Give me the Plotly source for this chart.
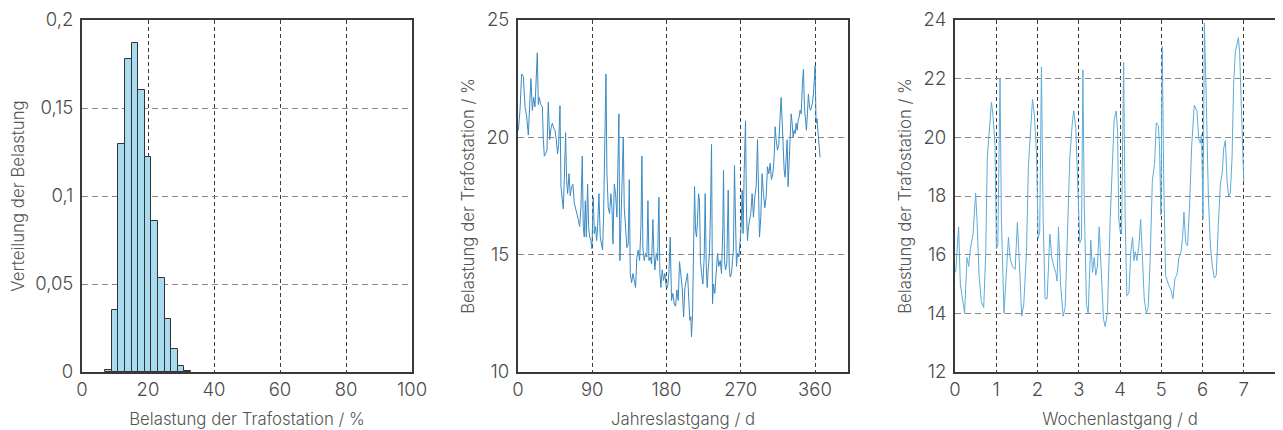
import plotly.graph_objects as go
from plotly.subplots import make_subplots

# ---------------- data ----------------
# Panel 1: distribution of transformer load (bin centres in %, relative frequency)
hist_centers = [8, 10, 12, 14, 16, 18, 20, 22, 24, 26, 28, 30, 32]
hist_freq = [0.0013, 0.035, 0.1295, 0.1776, 0.1871, 0.1602, 0.1223,
             0.0859, 0.0535, 0.0303, 0.0131, 0.0034, 0.0008]
hist_yticks = [0, 0.05, 0.1, 0.15, 0.2]
hist_yticktext = ["0", "0,05", "0,1", "0,15", "0,2"]
hist_xticks = [0, 20, 40, 60, 80, 100]

# Panel 2: annual load curve (day of year, load in %)
year_day = [0, 0.4, 2.4, 4.4, 6.5, 8.5, 10.5, 12.5, 14.5, 15.7, 17.4, 19.0, 20.6, 22.2, 23.4,
            24.6, 25.8, 27.5, 29.5, 30.7, 31.9, 33.5, 35.1, 36.7, 38.4, 40.0, 41.6, 43.2,
            44.8, 46.4, 48.0, 49.3, 50.9, 52.1, 53.7, 54.9, 56.1, 57.7, 58.9, 60.2, 61.8,
            63.4, 65.0, 66.6, 68.2, 69.8, 71.5, 73.1, 74.7, 76.3, 77.9, 79.1, 80.3, 81.6,
            82.8, 84.4, 85.6, 86.8, 88.4, 89.6, 91.2, 92.5, 94.1, 95.3, 96.5, 98.1, 99.7,
            101.3, 102.5, 103.8, 105.4, 106.6, 107.8, 109.4, 111.0, 112.6, 113.9, 115.1,
            116.7, 118.3, 119.9, 121.1, 122.3, 123.5, 124.8, 126.4, 127.6, 128.8, 130.4,
            132.0, 133.6, 134.9, 136.1, 137.7, 139.3, 140.9, 142.5, 144.1, 145.8, 147.4,
            149.0, 150.2, 151.4, 153.0, 154.6, 156.2, 157.5, 158.7, 160.3, 161.9, 163.5,
            164.7, 165.9, 167.6, 169.2, 170.8, 172.0, 173.2, 174.8, 176.4, 178.0, 179.7,
            181.3, 182.9, 184.5, 186.1, 187.7, 189.4, 191.0, 192.6, 194.2, 195.8, 197.4,
            199.0, 200.7, 202.3, 203.9, 205.5, 207.1, 208.3, 209.5, 210.3, 211.6, 212.8,
            214.0, 215.2, 216.4, 217.6, 218.8, 220.0, 221.2, 222.5, 224.1, 225.7, 226.9,
            228.1, 229.3, 230.5, 232.1, 233.4, 234.6, 235.8, 237.0, 238.6, 240.2, 241.8,
            243.4, 245.1, 246.7, 248.3, 249.1, 250.3, 251.5, 253.1, 254.8, 256.0, 257.2,
            258.8, 260.0, 261.2, 262.4, 263.6, 264.8, 266.1, 267.7, 269.3, 270.5, 271.7,
            272.9, 274.1, 275.8, 277.0, 278.2, 279.4, 280.6, 282.2, 283.8, 285.4, 287.0,
            288.7, 290.3, 291.5, 292.7, 294.3, 295.9, 297.5, 299.2, 300.8, 302.4, 304.0,
            305.6, 307.2, 308.9, 310.5, 311.7, 312.9, 314.5, 316.1, 317.7, 318.9, 320.2,
            321.4, 322.6, 323.8, 325.0, 326.2, 327.4, 328.6, 329.8, 331.1, 332.3, 333.5,
            334.7, 335.9, 337.1, 338.3, 339.5, 340.7, 341.9, 343.2, 344.8, 346.0, 347.2,
            348.4, 349.6, 350.8, 352.0, 353.3, 354.5, 355.7, 356.9, 358.1, 359.3, 360.1,
            361.3, 362.5, 363.8, 365.0, 366.2]
year_load = [20.5, 20.3, 21.15, 22.7, 22.6, 21.3, 20.9, 20.1, 21.6, 22.5, 21.15, 21.7, 21.3,
             22.3, 23.6, 21.4, 21.7, 21.4, 21.3, 19.9, 19.2, 19.3, 19.45, 21.5, 19.9, 20.4,
             20.6, 20.4, 20.3, 19.9, 19.3, 19.7, 21.35, 17.9, 17.3, 16.95, 18.2, 20.2, 18.2,
             17.6, 18.45, 17.5, 17.9, 18.0, 17.2, 17.0, 16.75, 16.5, 16.2, 17.0, 19.2, 16.2,
             15.75, 17.3, 15.75, 18.0, 16.2, 15.75, 15.6, 15.25, 17.45, 15.9, 16.2, 15.6,
             16.2, 17.6, 15.75, 15.4, 15.2, 16.75, 21.6, 22.7, 18.45, 17.0, 16.75, 17.6,
             17.0, 15.45, 18.0, 17.6, 16.6, 19.0, 21.0, 14.75, 16.2, 18.2, 20.0, 17.0, 16.2,
             15.3, 15.45, 18.2, 14.2, 13.8, 14.2, 13.9, 13.6, 14.9, 15.2, 14.75, 16.2, 19.2,
             15.3, 14.75, 15.05, 14.9, 17.3, 14.75, 14.9, 14.6, 16.5, 15.05, 14.35, 15.05,
             14.75, 17.45, 14.2, 13.6, 14.35, 13.9, 14.2, 13.6, 13.6, 14.2, 15.75, 13.05,
             13.35, 12.9, 12.8, 13.5, 13.05, 14.7, 14.2, 13.6, 12.35, 13.6, 13.9, 14.2,
             13.05, 12.2, 12.35, 11.5, 12.5, 15.05, 17.9, 16.05, 15.75, 16.45, 17.6, 17.3,
             14.75, 14.2, 13.75, 14.9, 17.6, 14.6, 13.6, 14.35, 15.05, 17.0, 19.7, 12.9,
             13.75, 13.35, 14.2, 15.05, 14.5, 14.75, 14.2, 16.2, 18.6, 14.75, 14.35, 14.6,
             17.75, 14.5, 14.05, 14.2, 14.75, 15.3, 18.8, 15.6, 14.5, 15.05, 14.9, 15.6,
             16.2, 17.75, 15.9, 18.45, 20.7, 16.75, 15.6, 16.2, 16.45, 16.75, 17.6, 16.6,
             17.45, 17.9, 19.9, 16.9, 15.75, 16.6, 18.45, 17.6, 17.0, 17.45, 18.75, 18.45,
             18.9, 18.2, 18.45, 19.15, 20.45, 19.9, 19.45, 19.7, 20.85, 21.7, 20.7, 19.45,
             18.6, 18.3, 18.9, 19.9, 17.9, 18.75, 19.9, 21.0, 20.6, 20.0, 20.3, 20.15, 20.6,
             20.3, 20.7, 20.85, 21.15, 21.0, 22.3, 22.9, 21.3, 20.6, 20.3, 21.0, 21.85,
             21.3, 21.15, 21.3, 21.45, 21.85, 22.85, 23.05, 20.6, 20.8, 20.15, 19.6, 19.15]
year_xticks = [0, 90, 180, 270, 360]
year_yticks = [10, 15, 20, 25]

# Panel 3: weekly load curve (time in hours, load in %)
week_hour = [0.4, 2.1, 3.1, 4.7, 5.6, 7.0, 8.0, 8.9, 10.5, 12.0, 12.8, 14.0, 15.3, 16.7,
             17.9, 18.8, 19.8, 21.2, 22.1, 23.3, 24.1, 24.9, 26.2, 27.0, 28.5, 29.9, 31.1,
             32.0, 33.4, 35.0, 36.3, 37.7, 38.8, 40.0, 41.6, 42.7, 43.9, 45.1, 46.2, 47.4,
             48.4, 49.3, 50.3, 51.3, 52.4, 53.6, 55.2, 56.3, 57.5, 58.6, 59.4, 60.2, 61.4,
             62.9, 64.1, 65.4, 66.8, 68.4, 69.1, 70.3, 71.5, 72.6, 73.6, 74.4, 75.2, 76.5,
             77.5, 79.0, 80.0, 81.0, 81.9, 82.9, 83.9, 85.4, 86.4, 87.4, 88.7, 90.3, 91.5,
             92.6, 93.8, 94.6, 95.3, 96.1, 96.9, 98.1, 99.0, 100.0, 101.2, 102.3, 103.3,
             104.1, 104.9, 105.8, 107.0, 108.0, 108.9, 110.1, 111.3, 112.4, 113.6, 114.8,
             116.1, 117.1, 118.3, 119.0, 119.8, 120.6, 121.4, 122.5, 124.1, 125.6, 126.8,
             128.0, 129.1, 130.3, 131.5, 132.4, 133.2, 134.2, 135.3, 136.5, 137.7, 139.2,
             140.8, 141.8, 142.7, 143.5, 144.3, 145.1, 146.2, 147.4, 148.6, 149.7, 150.9,
             152.0, 153.2, 154.4, 155.5, 156.3, 157.3, 158.3, 159.2, 160.2, 161.2, 162.1,
             163.1, 164.1, 164.9, 165.6, 166.8, 168.0]
week_load = [15.4, 16.95, 15.0, 14.3, 14.0, 15.9, 15.6, 16.2, 16.7, 18.1, 17.2, 15.3, 14.4,
             14.2, 16.1, 19.3, 20.1, 21.2, 20.75, 19.7, 16.2, 16.3, 22.0, 17.2, 14.0, 15.5,
             16.6, 15.9, 15.6, 15.5, 17.1, 15.4, 13.9, 14.3, 16.1, 19.0, 20.1, 21.3, 20.75,
             19.5, 16.55, 16.8, 22.4, 17.2, 14.5, 14.5, 16.7, 15.9, 15.6, 15.4, 15.1, 16.95,
             15.0, 13.9, 14.2, 17.0, 19.3, 20.6, 20.9, 20.3, 18.4, 16.4, 16.55, 22.3, 17.7,
             14.3, 14.0, 16.5, 15.4, 15.9, 15.3, 15.6, 16.95, 15.0, 13.8, 13.55, 14.05, 17.2,
             18.9, 20.6, 20.9, 20.2, 17.2, 16.8, 16.7, 22.55, 17.2, 14.6, 14.7, 16.1, 16.6,
             15.8, 16.1, 15.8, 16.3, 17.2, 16.1, 14.5, 14.0, 14.2, 15.9, 18.5, 19.1, 20.5,
             20.4, 19.7, 17.35, 23.1, 18.7, 15.3, 15.0, 14.8, 14.5, 15.2, 15.3, 15.9, 16.1,
             16.55, 17.45, 16.4, 16.3, 17.7, 19.7, 21.1, 20.9, 19.95, 19.8, 20.1, 17.2, 23.9,
             21.3, 18.0, 16.3, 15.6, 15.2, 15.3, 17.0, 18.4, 18.8, 19.6, 19.9, 18.5, 18.0,
             18.1, 19.3, 21.8, 22.9, 23.25, 23.4, 22.9, 20.6, 18.5]
week_day = [h / 24 for h in week_hour]
week_xticks = [0, 1, 2, 3, 4, 5, 6, 7]
week_yticks = [12, 14, 16, 18, 20, 22, 24]

# ---------------- styling ----------------
FONT = "Inter"
TXT = "#4a4a4a"
TITLE = "#555555"
FRAME = "#3a3a3a"
XGRID = "#3c3c3c"
YGRID = "#8a8a8a"

fig = make_subplots(rows=1, cols=3)

fig.add_trace(go.Bar(x=hist_centers, y=hist_freq, width=2,
                     marker=dict(color="#a8dbef", line=dict(color="#333333", width=1)),
                     showlegend=False), row=1, col=1)
fig.add_trace(go.Scatter(x=year_day, y=year_load, mode="lines",
                         line=dict(color="#3a8ac2", width=1), showlegend=False), row=1, col=2)
fig.add_trace(go.Scatter(x=week_day, y=week_load, mode="lines",
                         line=dict(color="#5eacd9", width=1), showlegend=False), row=1, col=3)

W, H = 1283, 430
OFF = 8  # page body margin of the exported html
def fx(px):
    return (px - OFF) / W
def fy(py):
    return 1 - (py - OFF) / H

tick_font = dict(family=FONT, size=18.5, color=TXT, weight=300)
title_font = dict(family=FONT, size=16.8, color=TITLE, weight=300)
common_x = dict(showline=True, mirror=True, linecolor=FRAME, linewidth=2,
                showgrid=True, gridcolor=XGRID, gridwidth=1, griddash="4px,3px",
                zeroline=False, ticks="", tickfont=tick_font, title_font=title_font,
                automargin=False, title_standoff=14)
common_y = dict(showline=True, mirror=True, linecolor=FRAME, linewidth=2,
                showgrid=True, gridcolor=YGRID, gridwidth=1, griddash="6px,4px",
                zeroline=False, ticks="", tickfont=tick_font, title_font=title_font,
                automargin=False, title_standoff=8, ticklabelstandoff=3)

fig.update_layout(
    width=W, height=H, margin=dict(l=0, r=0, t=0, b=0),
    paper_bgcolor="white", plot_bgcolor="white", bargap=0,
    separators=",.",
    xaxis=dict(common_x, domain=[fx(82), fx(412)], range=[0, 100], tickvals=hist_xticks,
               title_text="Belastung der Trafostation / %"),
    yaxis=dict(common_y, domain=[fy(372), fy(20)], range=[0, 0.2], tickvals=hist_yticks,
               ticktext=hist_yticktext, title_text="Verteilung der Belastung"),
    xaxis2=dict(common_x, domain=[fx(518), fx(848)], range=[0, 400], tickvals=year_xticks,
                title_text="Jahreslastgang / d"),
    yaxis2=dict(common_y, domain=[fy(372), fy(20)], range=[10, 25], tickvals=year_yticks,
                title_text="Belastung der Trafostation / %"),
    xaxis3=dict(common_x, domain=[fx(955), fx(1285)], range=[0, 8], tickvals=week_xticks,
                title_text="Wochenlastgang / d"),
    yaxis3=dict(common_y, domain=[fy(372), fy(20)], range=[12, 24], tickvals=week_yticks,
                title_text="Belastung der Trafostation / %"),
)

fig.write_html("out.html")
